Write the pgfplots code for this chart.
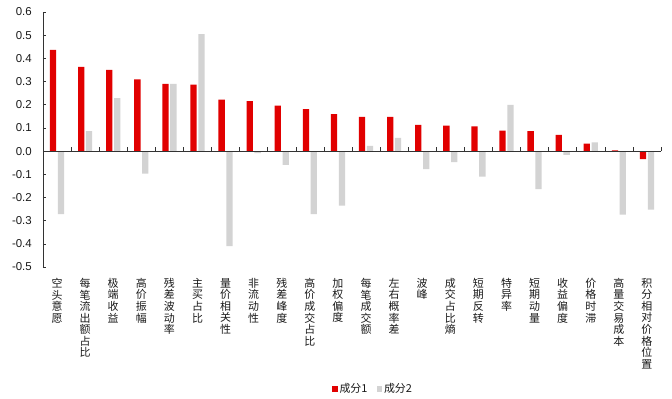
\documentclass[border=0pt]{standalone}
\usepackage{pgfplots}
\pgfplotsset{compat=1.18}
\usepackage{fontspec}
\setmainfont{Liberation Sans}
\newfontfamily\cjk{Noto Sans CJK SC}
\definecolor{cred}{RGB}{225,0,0}
\definecolor{cgray}{RGB}{211,211,211}
\definecolor{ctext}{RGB}{25,25,25}
\begin{document}
\begin{tikzpicture}
\begin{axis}[name=main, at={(0,0)}, anchor=south west, scale only axis,
  width=618bp, height=255bp,
  xmin=-0.5, xmax=21.5, ymin=-0.5, ymax=0.6,
  axis x line*=bottom, axis y line*=left,
  x axis line style={draw=none},
  y axis line style={-, black!80, line width=0.6bp},
  xtick={0,...,21},
  xticklabels={{空\\头\\意\\愿},{每\\笔\\流\\出\\额\\占\\比},{极\\端\\收\\益},{高\\价\\振\\幅},{残\\差\\波\\动\\率},{主\\买\\占\\比},{量\\价\\相\\关\\性},{非\\流\\动\\性},{残\\差\\峰\\度},{高\\价\\成\\交\\占\\比},{加\\权\\偏\\度},{每\\笔\\成\\交\\额},{左\\右\\概\\率\\差},{波\\峰},{成\\交\\占\\比\\熵},{短\\期\\反\\转},{特\\异\\率},{短\\期\\动\\量},{收\\益\\偏\\度},{价\\格\\时\\滞},{高\\量\\交\\易\\成\\本},{积\\分\\相\\对\\价\\格\\位\\置}},
  major x tick style={draw=none},
  xticklabel style={font=\fontsize{11}{11.6}\selectfont\cjk, text=ctext, align=center, anchor=north, inner sep=0pt, yshift=-8bp},
  ytick={-0.5,-0.4,-0.3,-0.2,-0.1,0,0.1,0.2,0.3,0.4,0.5,0.6},
  ytick align=inside, major y tick style={black!80, line width=0.6bp}, major tick length=3bp,
  yticklabel style={font=\fontsize{11.5}{13}\selectfont, text=ctext, inner sep=0pt, xshift=-11bp,
    /pgf/number format/.cd, fixed, fixed zerofill, precision=1, assume math mode=true},
  ybar=1.6bp, bar width=6.3bp,
  legend columns=2,
  legend style={at={(axis description cs:0.534,-0.445)}, anchor=north, draw=none, fill=none,
    font=\fontsize{11}{13}\selectfont\cjk, text=ctext, inner sep=1bp,
    /tikz/every even column/.append style={column sep=7bp}},
  legend image code/.code={\fill[#1] (0bp,-2.7bp) rectangle (5.5bp,3bp);},
]
\addplot[fill=cred, draw=none] coordinates {
(0,0.437) (1,0.363) (2,0.350) (3,0.309) (4,0.290) (5,0.287) (6,0.222) (7,0.216)
(8,0.196) (9,0.181) (10,0.159) (11,0.148) (12,0.148) (13,0.113) (14,0.110) (15,0.107)
(16,0.088) (17,0.086) (18,0.070) (19,0.032) (20,0.003) (21,-0.035)};
\addlegendentry{成分1}
\addplot[fill=cgray, draw=none] coordinates {
(0,-0.272) (1,0.086) (2,0.228) (3,-0.097) (4,0.290) (5,0.505) (6,-0.410) (7,-0.009)
(8,-0.059) (9,-0.272) (10,-0.235) (11,0.022) (12,0.057) (13,-0.078) (14,-0.048) (15,-0.110)
(16,0.199) (17,-0.164) (18,-0.016) (19,0.038) (20,-0.274) (21,-0.252)};
\addlegendentry{成分2}
\end{axis}
\begin{axis}[at={(0,115.909bp)}, anchor=south west, scale only axis,
  width=618bp, height=139.091bp,
  xmin=-0.5, xmax=21.5, ymin=0, ymax=0.6,
  axis x line*=bottom, axis y line=none,
  x axis line style={-, black!80, line width=0.6bp},
  xtick={-0.5,0.5,...,21.5}, xticklabels={},
  xtick align=inside, major tick length=4bp,
  major x tick style={black!80, line width=0.6bp},
]
\end{axis}
\pgfresetboundingbox
\path (-43bp,-132bp) rectangle (629bp,267bp);
\end{tikzpicture}
\end{document}
